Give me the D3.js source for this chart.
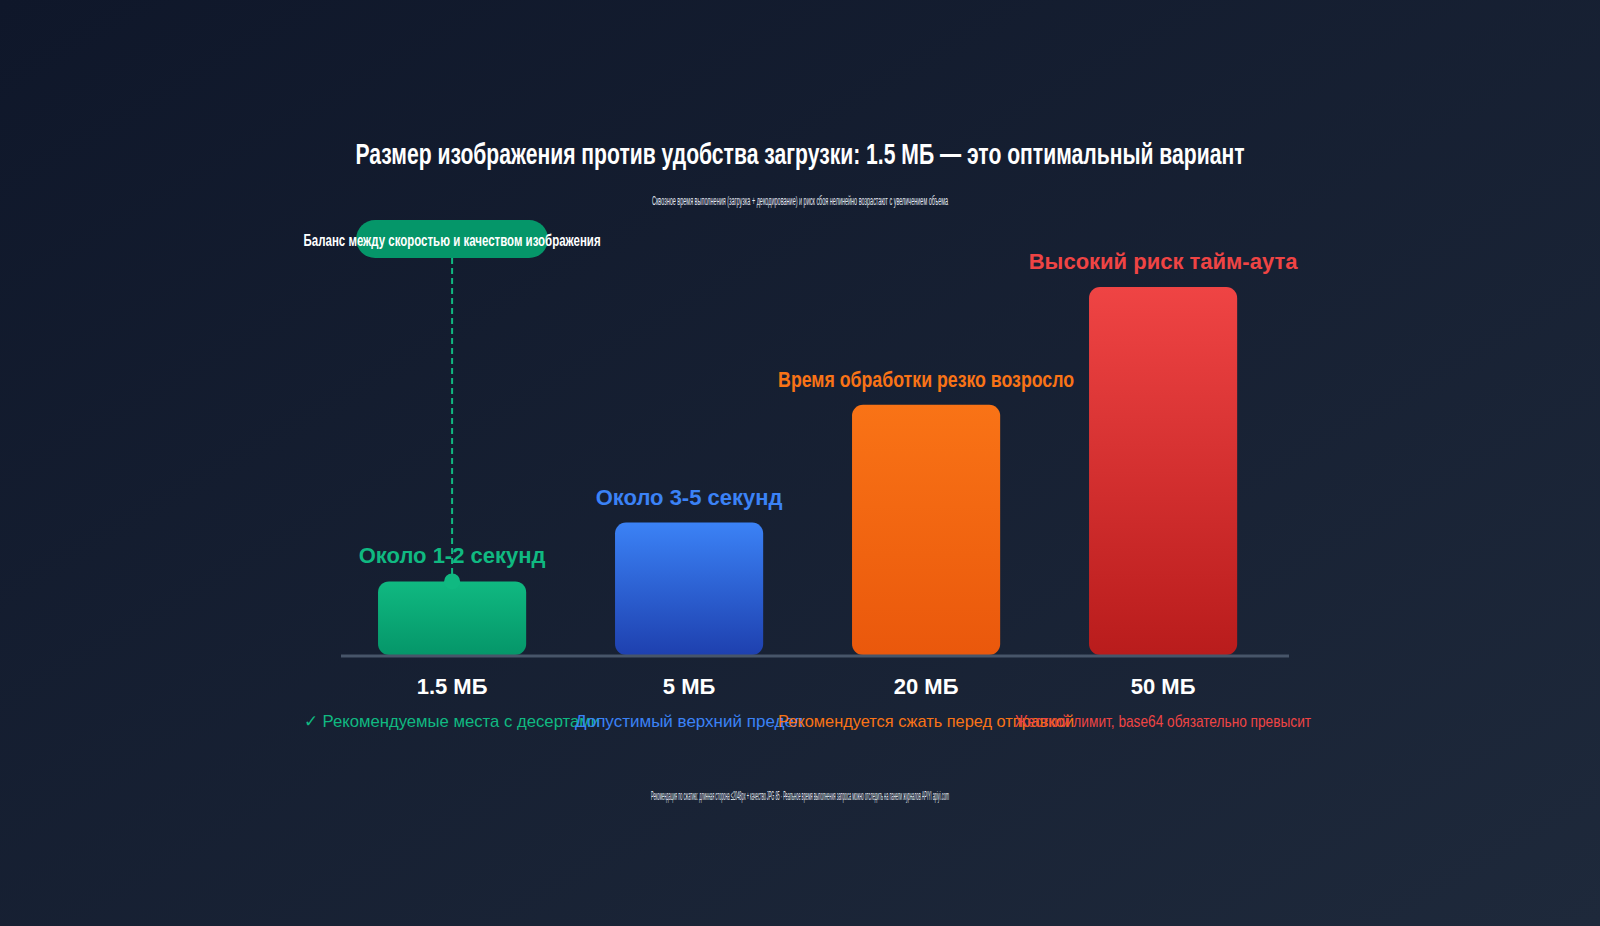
<!DOCTYPE html>
<html><head><meta charset="utf-8">
<script src="https://cdn.jsdelivr.net/npm/d3@7"></script>
<style>html,body{margin:0;padding:0;background:#111827;overflow:hidden}</style>
</head><body>
<svg id="chart" width="1600" height="926"></svg>
<script>
const categories = ["1.5 МБ", "5 МБ", "20 МБ", "50 МБ"];
const values = [20, 36, 68, 100];
const valueLabels = ["Около 1-2 секунд", "Около 3-5 секунд", "Время обработки резко возросло", "Высокий риск тайм-аута"];
const notes = ["✓ Рекомендуемые места с десертами", "Допустимый верхний предел", "Рекомендуется сжать перед отправкой", "Жесткий лимит, base64 обязательно превысит"];
const colorsTop = ["#10b981", "#3b82f6", "#f97316", "#ef4444"];
const colorsBottom = ["#059669", "#1e40af", "#ea580c", "#b91c1c"];
const titleText = "Размер изображения против удобства загрузки: 1.5 МБ — это оптимальный вариант";
const subtitleText = "Сквозное время выполнения (загрузка + декодирование) и риск сбоя нелинейно возрастают с увеличением объема";
const footerText = "Рекомендация по сжатию: длинная сторона ≤2048px + качество JPG 85 · Реальное время выполнения запроса можно отследить на панели журналов APIYI apiyi.com";
const annotationText = "Баланс между скоростью и качеством изображения";
const highlightIndex = 0;

const svg = d3.select("#chart");
const defs = svg.append("defs");
const bg = defs.append("linearGradient").attr("id","bg").attr("x1","0").attr("y1","0").attr("x2","1").attr("y2","1");
bg.append("stop").attr("offset","0").attr("stop-color","#0f172a");
bg.append("stop").attr("offset","1").attr("stop-color","#1e293b");
svg.append("rect").attr("width",1600).attr("height",926).attr("fill","url(#bg)");

categories.forEach((c,i)=>{
  const g = defs.append("linearGradient").attr("id","g"+i).attr("x1","0").attr("y1","0").attr("x2","0").attr("y2","1");
  g.append("stop").attr("offset","0").attr("stop-color",colorsTop[i]);
  g.append("stop").attr("offset","1").attr("stop-color",colorsBottom[i]);
});

const x = d3.scaleBand().domain(categories).range([333.6, 1281.6]).paddingInner(0.375).paddingOuter(0.1875);
const y = d3.scaleLinear().domain([0, 100]).range([655, 287]);

const sans = "'Liberation Sans', Arial, sans-serif";
const MAXW = 296;
function clamp(sel, maxw){
  sel.each(function(){ const w=this.getComputedTextLength(); if(w>maxw){ d3.select(this).attr("textLength",maxw).attr("lengthAdjust","spacingAndGlyphs"); } });
}

// title
svg.append("text").attr("x",800).attr("y",164).attr("text-anchor","middle")
  .attr("font-family",sans).attr("font-weight","bold").attr("font-size",30).attr("fill","#ffffff")
  .attr("textLength",889).attr("lengthAdjust","spacingAndGlyphs").text(titleText);
svg.append("text").attr("x",800).attr("y",205).attr("text-anchor","middle")
  .attr("font-family",sans).attr("font-size",13).attr("fill","#e2e8f0")
  .attr("textLength",296).attr("lengthAdjust","spacingAndGlyphs").text(subtitleText);

// bars
svg.selectAll("rect.bar").data(categories).join("rect").attr("class","bar")
  .attr("x",d=>x(d)).attr("width",x.bandwidth())
  .attr("y",(d,i)=>y(values[i])).attr("height",(d,i)=>y(0)-y(values[i]))
  .attr("rx",11).attr("fill",(d,i)=>`url(#g${i})`);

// axis baseline
svg.append("line").attr("x1",341).attr("x2",1289).attr("y1",y(0)+1).attr("y2",y(0)+1)
  .attr("stroke","#475569").attr("stroke-width",3);

// value labels
svg.selectAll("text.val").data(categories).join("text").attr("class","val")
  .attr("x",d=>x(d)+x.bandwidth()/2).attr("y",(d,i)=>y(values[i])-18)
  .attr("text-anchor","middle").attr("font-family",sans).attr("font-weight","bold").attr("font-size",22)
  .attr("fill",(d,i)=>colorsTop[i]).text((d,i)=>valueLabels[i])
  .call(clamp, MAXW);

// category labels
svg.selectAll("text.cat").data(categories).join("text").attr("class","cat")
  .attr("x",d=>x(d)+x.bandwidth()/2).attr("y",694)
  .attr("text-anchor","middle").attr("font-family",sans).attr("font-weight","bold").attr("font-size",22)
  .attr("fill","#ffffff").text(d=>d);

// notes
svg.selectAll("text.note").data(categories).join("text").attr("class","note")
  .attr("x",d=>x(d)+x.bandwidth()/2).attr("y",727)
  .attr("text-anchor","middle").attr("font-family",sans).attr("font-size",17)
  .attr("fill",(d,i)=>colorsTop[i]).text((d,i)=>notes[i])
  .call(clamp, MAXW);

// annotation
const ax = x(categories[highlightIndex]) + x.bandwidth()/2;
const ay = y(values[highlightIndex]);
svg.append("line").attr("x1",ax).attr("x2",ax).attr("y1",258).attr("y2",ay)
  .attr("stroke","#10b981").attr("stroke-width",2).attr("stroke-dasharray","6,4");
svg.append("circle").attr("cx",ax).attr("cy",ay).attr("r",8).attr("fill","#10b981");
svg.append("rect").attr("x",ax-96).attr("y",220).attr("width",192).attr("height",38).attr("rx",19)
  .attr("fill","#059669");
svg.append("text").attr("x",ax).attr("y",246).attr("text-anchor","middle")
  .attr("font-family",sans).attr("font-weight","bold").attr("font-size",17).attr("fill","#ffffff")
  .attr("textLength",297).attr("lengthAdjust","spacingAndGlyphs").text(annotationText);

// footer
svg.append("text").attr("x",800).attr("y",800).attr("text-anchor","middle")
  .attr("font-family",sans).attr("font-size",13).attr("fill","#e2e8f0")
  .attr("textLength",298).attr("lengthAdjust","spacingAndGlyphs").text(footerText);
</script>
</body></html>
